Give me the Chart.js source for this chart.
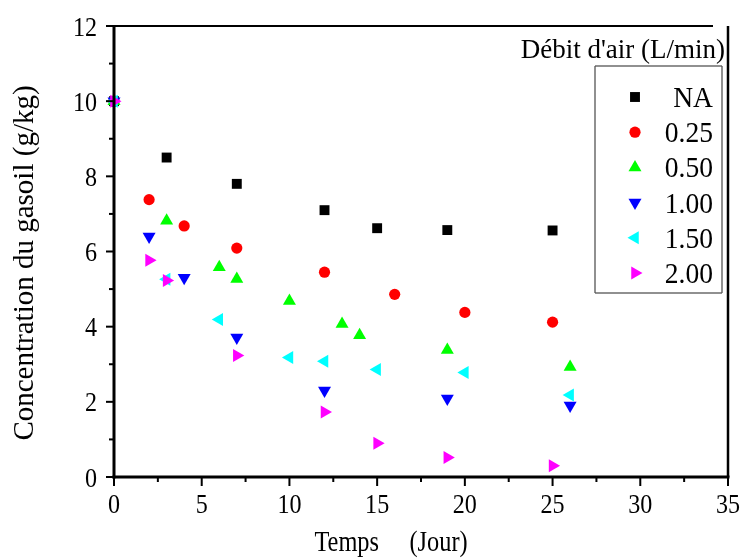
<!DOCTYPE html>
<html>
<head>
<meta charset="utf-8">
<script src="https://cdn.jsdelivr.net/npm/chart.js@4/dist/chart.umd.min.js"></script>
<style>body{margin:0;background:#fff}canvas{display:block}</style>
</head>
<body>
<canvas id="grafico" width="743" height="558"></canvas>
<script>
// valeurs
const ticksX = [0, 5, 10, 15, 20, 25, 30, 35];
const ticksY = [0, 2, 4, 6, 8, 10, 12];

const jourNA = [0, 3, 7, 12, 15, 19, 25];
const concNA = [10, 8.5, 7.8, 7.1, 6.62, 6.57, 6.56];
const jour025 = [0, 2, 4, 7, 12, 16, 20, 25];
const conc025 = [10, 7.38, 6.68, 6.09, 5.45, 4.86, 4.38, 4.12];
const jour050 = [0, 3, 6, 7, 10, 13, 14, 19, 26];
const conc050 = [10, 6.82, 5.58, 5.27, 4.68, 4.07, 3.77, 3.38, 2.93];
const jour100 = [0, 2, 4, 7, 12, 19, 26];
const conc100 = [10, 6.4, 5.3, 3.71, 2.3, 2.09, 1.9];
const jour150 = [0, 3, 6, 10, 12, 15, 20, 26];
const conc150 = [10, 5.26, 4.19, 3.18, 3.08, 2.86, 2.78, 2.18];
const jour200 = [0, 2, 3, 7, 12, 15, 19, 25];
const conc200 = [10, 5.77, 5.23, 3.23, 1.73, 0.9, 0.52, 0.3];

const serif = '"Liberation Serif", "Times New Roman", serif';

const pts = (xs, ys) => xs.map((v, i) => ({ x: v, y: ys[i] }));

function serie(label, xs, ys, color, style, radius, rotation, order) {
  return {
    label, data: pts(xs, ys), order,
    backgroundColor: color, borderColor: color, borderWidth: 0,
    pointStyle: style, pointRadius: radius, pointHoverRadius: radius,
    pointRotation: rotation, clip: false
  };
}

function txt(ctx, s, x, y, size, align, sx, rot) {
  ctx.save();
  ctx.font = size + 'px ' + serif;
  ctx.fillStyle = '#000';
  ctx.textAlign = align;
  ctx.textBaseline = 'alphabetic';
  ctx.translate(x, y);
  if (rot) ctx.rotate(rot);
  ctx.scale(sx, 1);
  ctx.fillText(s, 0, 0);
  ctx.restore();
}

// traits horizontaux / verticaux en rectangles pleins
function hTrait(ctx, x1, x2, y, w, c) {
  ctx.fillStyle = c || '#000';
  ctx.fillRect(x1, y - w / 2, x2 - x1, w);
}
function vTrait(ctx, x, y1, y2, w, c) {
  ctx.fillStyle = c || '#000';
  ctx.fillRect(x - w / 2, y1, w, y2 - y1);
}

const cadre = {
  id: 'cadre',
  afterDraw(chart) {
    const ctx = chart.ctx;
    const a = chart.chartArea;
    const x = chart.scales.x, y = chart.scales.y;
    ctx.save();

    hTrait(ctx, a.left, a.right - 15, a.top, 2);
    vTrait(ctx, a.right, a.top, a.bottom, 2.5);
    vTrait(ctx, a.left, a.top - 1, a.bottom + 1.5, 3);
    hTrait(ctx, a.left - 1.5, a.right + 1.5, a.bottom, 3);

    ticksX.forEach((v, i) => {
      const px = x.getPixelForValue(v);
      vTrait(ctx, px, a.bottom, a.bottom + 9, 2);
      if (i < ticksX.length - 1) {
        const m = x.getPixelForValue((v + ticksX[i + 1]) / 2);
        vTrait(ctx, m, a.bottom, a.bottom + 5, 2);
      }
      txt(ctx, String(v), px, a.bottom + 36, 28, 'center', 0.86);
    });
    ticksY.forEach((v, i) => {
      const py = y.getPixelForValue(v);
      hTrait(ctx, a.left - 8, a.left, py, 2);
      if (i < ticksY.length - 1) {
        const m = y.getPixelForValue((v + ticksY[i + 1]) / 2);
        hTrait(ctx, a.left - 5, a.left, m, 2);
      }
      txt(ctx, String(v), a.left - 17, py + 9.5, 28, 'right', 0.86);
    });

    // titres des axes
    ctx.font = '29px ' + serif;
    const wT = ctx.measureText('Temps').width * 0.84;
    txt(ctx, 'Temps     (Jour)', 379 - wT, 551, 29, 'left', 0.84);
    txt(ctx, 'Concentration du gasoil (g/kg)', 33, 263, 29, 'center', 1, -Math.PI / 2);

    // légende
    const bx = a.right - 133, by = a.top + 40, bw = 127, bh = 227;
    txt(ctx, "Débit d'air (L/min)", a.right - 3, a.top + 32, 27, 'right', 1);
    hTrait(ctx, bx, bx + bw, by, 1.3, '#555');
    hTrait(ctx, bx, bx + bw, by + bh, 1.3, '#555');
    vTrait(ctx, bx, by, by + bh, 1.3, '#555');
    vTrait(ctx, bx + bw, by, by + bh, 1.3, '#555');
    chart.data.datasets.forEach((ds, i) => {
      const cy = by + 31 + i * 35.2;
      ctx.fillStyle = ds.backgroundColor;
      Chart.helpers.drawPoint(ctx, {
        pointStyle: ds.pointStyle, radius: ds.pointRadius,
        rotation: ds.pointRotation, borderWidth: 0
      }, bx + 40, cy);
      txt(ctx, ds.label, bx + bw - 9, cy + 10, 29, 'right', 0.95);
    });
    ctx.restore();
  }
};

new Chart(document.getElementById('grafico'), {
  type: 'scatter',
  data: {
    datasets: [
      serie('NA', jourNA, concNA, '#000000', 'rect', 7, 0, 6),
      serie('0.25', jour025, conc025, '#ff0000', 'circle', 5.6, 0, 5),
      serie('0.50', jour050, conc050, '#00ff00', 'triangle', 7.5, 0, 4),
      serie('1.00', jour100, conc100, '#0000ff', 'triangle', 7.5, 180, 3),
      serie('1.50', jour150, conc150, '#00ffff', 'triangle', 7.5, 270, 2),
      serie('2.00', jour200, conc200, '#ff00ff', 'triangle', 7.5, 90, 1)
    ]
  },
  options: {
    responsive: false,
    animation: false,
    devicePixelRatio: 1,
    layout: { padding: { top: 26, right: 15, left: 0, bottom: 0 } },
    plugins: { legend: { display: false }, tooltip: { enabled: false } },
    scales: {
      x: {
        type: 'linear', min: 0, max: 35,
        grid: { display: false }, border: { display: false },
        ticks: { display: false },
        afterFit: s => { s.height = 81; }
      },
      y: {
        type: 'linear', min: 0, max: 12,
        grid: { display: false }, border: { display: false },
        ticks: { display: false },
        afterFit: s => { s.width = 114; }
      }
    }
  },
  plugins: [cadre]
});
</script>
</body>
</html>
